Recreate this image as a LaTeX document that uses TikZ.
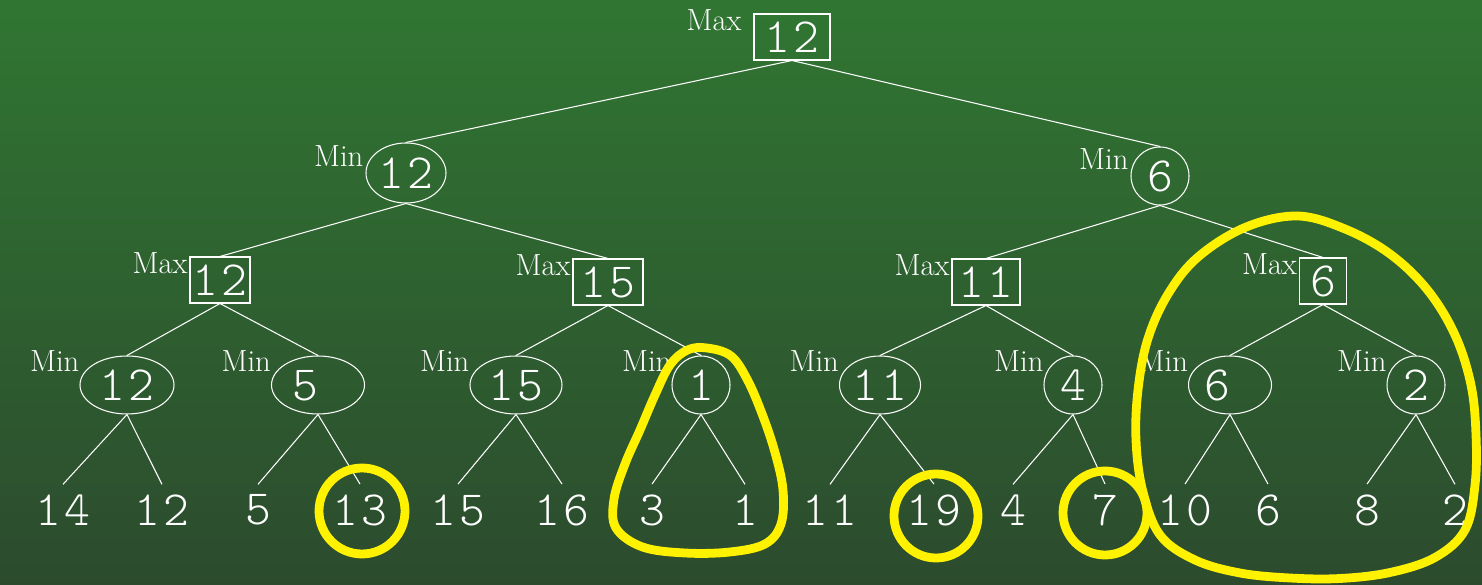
\documentclass[tikz,border=0pt]{standalone}
\usepackage{fontspec}
\newfontfamily\digitfont[LetterSpace=6]{Latin Modern Mono Light}
\usetikzlibrary{shapes.geometric}
\definecolor{boardtop}{RGB}{48,118,50}
\definecolor{boardbot}{RGB}{44,75,46}

\begin{document}
\begin{tikzpicture}[
    val/.style={font=\digitfont\fontsize{28}{30}\selectfont, text=white},
    maxbox/.style={val, rectangle, draw=white, line width=0.6pt, inner sep=0pt, minimum height=0.92cm, minimum width=#1},
    minell/.style={val, ellipse, draw=white, line width=0.6pt, inner sep=0pt, minimum width=#1, minimum height=1.16cm},
    mincirc/.style={val, circle, draw=white, line width=0.6pt, inner sep=0pt, minimum size=1.16cm},
    leaf/.style={val, inner sep=0.2cm},
    tagtext/.style={font=\fontsize{17.4}{20}\selectfont, text=white, anchor=south east, inner sep=1pt, yshift=0.08cm},
    tag/.style={label={[tagtext]west:#1}},
    lowtag/.style={label={[tagtext, yshift=0.14cm, xshift=0.04cm]west:#1}},
    branch/.style={draw=white, line width=0.6pt},
    hl/.style={draw=yellow, line width=5pt}
]
    % Board
    \shade[top color=boardtop, bottom color=boardbot] (0,0) rectangle (29.64,11.7);
    \useasboundingbox (0,0) rectangle (29.64,11.7);

    % Max / Min levels
    \node[maxbox=1.52cm, label={[tagtext, xshift=-0.2cm]west:Max}] (root) at (15.84,10.96) {12};

    \node[minell=1.6cm, tag=Min, minimum height=1.2cm] (m1a) at (8.12,8.24) {12};
    \node[mincirc, tag=Min] (m1b) at (23.2,8.18) {6};

    \node[maxbox=1.2cm, tag=Max] (x2a) at (4.4,6.1) {12};
    \node[maxbox=1.4cm, tag=Max] (x2b) at (12.16,6.06) {15};
    \node[maxbox=1.36cm, tag=Max] (x2c) at (19.72,6.06) {11};
    \node[maxbox=0.94cm, tag=Max] (x2d) at (26.46,6.08) {6};

    \node[minell=1.88cm, lowtag=Min] (n3a) at (2.54,4.0) {12};
    \node[minell=1.86cm, lowtag=Min] (n3b) at (6.36,4.0) {5\phantom{0}};
    \node[minell=1.84cm, lowtag=Min] (n3c) at (10.32,4.0) {15};
    \node[mincirc, lowtag=Min] (n3d) at (14.02,4.0) {1};
    \node[minell=1.62cm, lowtag=Min] (n3e) at (17.6,4.0) {11};
    \node[mincirc, lowtag=Min] (n3f) at (21.46,4.0) {4};
    \node[minell=1.66cm, lowtag=Min] (n3g) at (24.6,4.0) {6\phantom{0}};
    \node[mincirc, lowtag=Min] (n3h) at (28.32,4.0) {2};

    % Leaves
    \node[leaf] (l14) at (1.26,1.5) {14};
    \node[leaf] (l12) at (3.24,1.5) {12};
    \node[leaf] (l5) at (5.16,1.5) {5};
    \node[leaf] (l13) at (7.2,1.5) {13};
    \node[leaf] (l15) at (9.16,1.5) {15};
    \node[leaf] (l16) at (11.24,1.5) {16};
    \node[leaf] (l3) at (13.04,1.5) {3};
    \node[leaf] (l1) at (14.9,1.5) {1};
    \node[leaf] (l11) at (16.6,1.5) {11};
    \node[leaf] (l19) at (18.68,1.5) {19};
    \node[leaf] (l4) at (20.26,1.5) {4};
    \node[leaf] (l7) at (22.1,1.5) {7};
    \node[leaf] (l10) at (23.7,1.5) {10};
    \node[leaf] (l6) at (25.36,1.5) {6};
    \node[leaf] (l8) at (27.34,1.5) {8};
    \node[leaf] (l2) at (29.1,1.5) {2};

    % Branches
    \foreach \p/\c in {root/m1a, root/m1b, m1a/x2a, m1a/x2b, m1b/x2c, m1b/x2d,
        x2a/n3a, x2a/n3b, x2b/n3c, x2b/n3d, x2c/n3e, x2c/n3f, x2d/n3g, x2d/n3h,
        n3a/l14, n3a/l12, n3b/l5, n3b/l13, n3c/l15, n3c/l16, n3d/l3, n3d/l1,
        n3e/l11, n3e/l19, n3f/l4, n3f/l7, n3g/l10, n3g/l6, n3h/l8, n3h/l2}
        \draw[branch] (\p.south) -- (\c.north);

    % Pruned parts
    \draw[hl] ([xshift=0.04cm,yshift=-0.02cm]l13) circle (0.86cm);
    \draw[hl] ([xshift=0.04cm,yshift=-0.12cm]l19) circle (0.84cm);
    \draw[hl] ([yshift=-0.06cm]l7) circle (0.84cm);
    \draw[hl] plot[smooth cycle, tension=0.6] coordinates {(14.14,4.74) (14.62,4.58) (14.95,4.1)
        (15.25,3.4) (15.5,2.65) (15.66,1.9) (15.62,1.22) (15.3,0.82) (14.6,0.66) (13.7,0.64)
        (12.85,0.76) (12.32,1.14) (12.28,1.72) (12.5,2.42) (12.8,3.1) (13.1,3.8) (13.4,4.4)
        (13.75,4.7)};
    \draw[hl] plot[smooth cycle, tension=0.6] coordinates {(25.94,7.38) (26.9,7.12) (27.8,6.62)
        (28.55,5.9) (29.1,5.0) (29.42,4.0) (29.52,3.0) (29.5,2.0) (29.3,1.1) (28.7,0.55)
        (27.8,0.25) (26.8,0.13) (25.8,0.14) (24.8,0.24) (23.9,0.5) (23.2,1.0) (22.85,1.9)
        (22.72,2.9) (22.76,3.9) (22.95,4.9) (23.35,5.8) (23.95,6.55) (24.9,7.15)};
\end{tikzpicture}
\end{document}
